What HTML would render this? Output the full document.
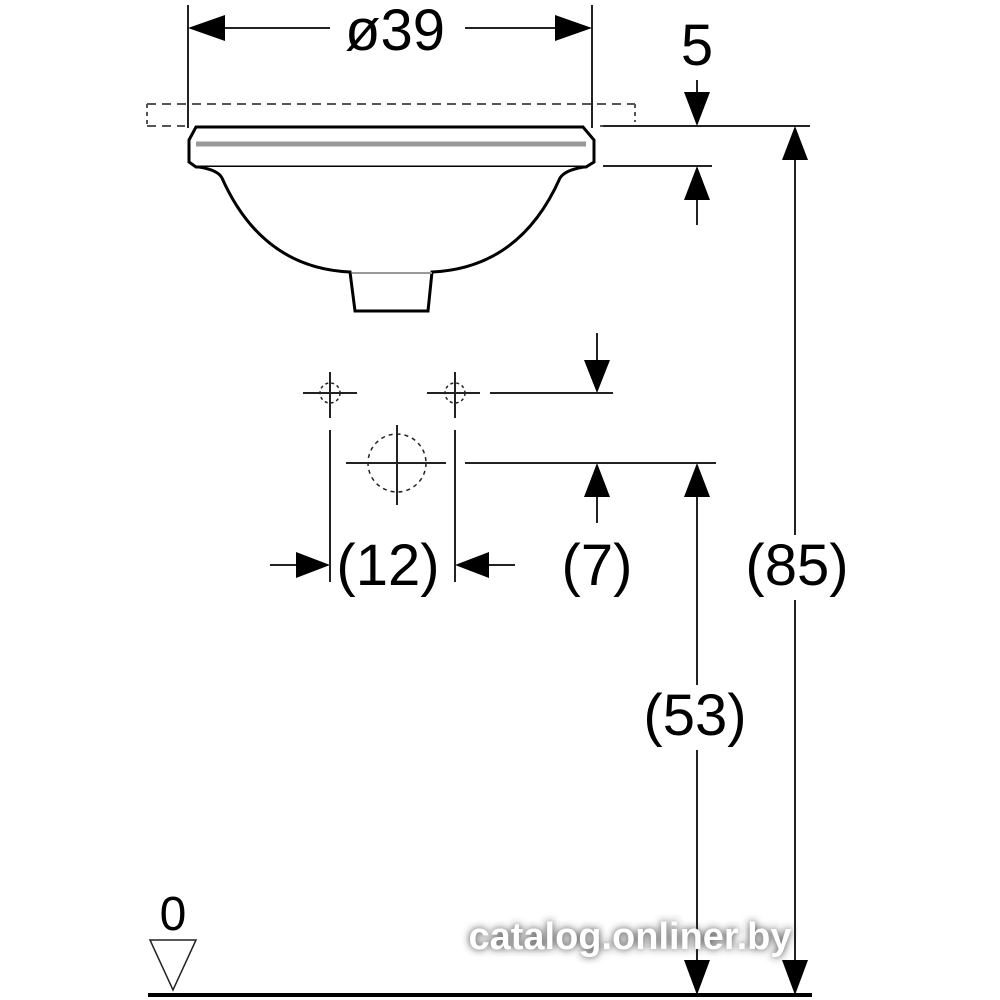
<!DOCTYPE html>
<html><head><meta charset="utf-8"><style>
html,body{margin:0;padding:0;background:#fff;}
svg{display:block;}
text{font-family:"Liberation Sans",sans-serif;fill:#000;}
</style></head><body>
<svg width="1000" height="1000" viewBox="0 0 1000 1000" xmlns="http://www.w3.org/2000/svg">
<defs>
<filter id="sh" x="-20%" y="-50%" width="140%" height="200%"><feGaussianBlur stdDeviation="4"/></filter>
</defs>
<g stroke="#222" stroke-width="2" fill="none">
<line x1="188" y1="5" x2="188" y2="128"/>
<line x1="592" y1="5" x2="592" y2="128"/>
<line x1="225" y1="28" x2="330" y2="28"/>
<line x1="465" y1="28" x2="560" y2="28"/>
<path d="M147 104 H635 M147 126 H185 M600 126 H635" stroke-dasharray="9,6" stroke="#555"/>
<path d="M147 104 V126 M635 104 V122" stroke-dasharray="4,4" stroke="#555"/>
<path d="M196 127 H583 L594 140 V162 L586 167 H196 L189 162 V140 Z" stroke="#000" stroke-width="3" fill="#fff"/>
<line x1="196" y1="144" x2="586" y2="144" stroke="#999" stroke-width="5"/>
<path d="M199 167 Q218 170 222 178 Q262 268 350 272 L355 311 H428 L432 272 Q520 268 560 178 Q565 170 584 167" stroke="#000" stroke-width="3" fill="#fff"/>
<line x1="352" y1="273" x2="432" y2="273" stroke="#999"/>
<line x1="603" y1="126" x2="810" y2="126"/>
<line x1="603" y1="166" x2="712" y2="166"/>
<line x1="697" y1="80" x2="697" y2="100"/>
<line x1="697" y1="195" x2="697" y2="225"/>
<line x1="795" y1="150" x2="795" y2="535"/>
<line x1="795" y1="600" x2="795" y2="970"/>
<line x1="303" y1="393" x2="357" y2="393"/>
<line x1="330" y1="372" x2="330" y2="418"/>
<line x1="427" y1="393" x2="480" y2="393"/>
<line x1="455" y1="372" x2="455" y2="418"/>
<circle cx="330" cy="393" r="10" stroke-dasharray="3,3" stroke-width="1.5"/>
<circle cx="455" cy="393" r="10" stroke-dasharray="3,3" stroke-width="1.5"/>
<line x1="490" y1="393" x2="613" y2="393"/>
<line x1="597" y1="333" x2="597" y2="360"/>
<line x1="330" y1="430" x2="330" y2="582"/>
<line x1="455" y1="430" x2="455" y2="582"/>
<line x1="346" y1="463" x2="446" y2="463"/>
<line x1="397" y1="425" x2="397" y2="505"/>
<circle cx="397" cy="463" r="29" stroke-dasharray="4,4" stroke-width="1.5"/>
<line x1="465" y1="463" x2="716" y2="463"/>
<line x1="597" y1="495" x2="597" y2="523"/>
<line x1="697" y1="495" x2="697" y2="685"/>
<line x1="697" y1="750" x2="697" y2="965"/>
<line x1="270" y1="565" x2="300" y2="565"/>
<line x1="485" y1="565" x2="515" y2="565"/>
<path d="M150 940 H196 L173 990 Z" stroke-width="1.5"/>
</g>
<line x1="148" y1="995" x2="812" y2="995" stroke="#000" stroke-width="4"/>
<g fill="#000">
<path d="M188 28 L225 15 V41 Z"/>
<path d="M592 28 L555 15 V41 Z"/>
<path d="M684 92 H710 L697 126 Z"/>
<path d="M684 200 H710 L697 166 Z"/>
<path d="M782 160 H808 L795 126 Z"/>
<path d="M782 960 H808 L795 995 Z"/>
<path d="M584 360 H610 L597 393 Z"/>
<path d="M584 497 H610 L597 463 Z"/>
<path d="M684 497 H710 L697 463 Z"/>
<path d="M684 960 H710 L697 995 Z"/>
<path d="M330 565 L296 552 V578 Z"/>
<path d="M455 565 L489 552 V578 Z"/>
</g>
<text x="395" y="50" font-size="58" text-anchor="middle">ø39</text>
<text x="697" y="65" font-size="58" text-anchor="middle">5</text>
<rect x="742" y="535" width="112" height="65" fill="#fff"/>
<text x="797" y="585" font-size="58" text-anchor="middle">(85)</text>
<text x="388" y="585" font-size="58" text-anchor="middle">(12)</text>
<text x="597" y="585" font-size="58" text-anchor="middle">(7)</text>
<rect x="638" y="685" width="115" height="65" fill="#fff"/>
<text x="695" y="735" font-size="58" text-anchor="middle">(53)</text>
<text x="173" y="930" font-size="48" text-anchor="middle">0</text>
<text x="630" y="949" font-size="38" font-weight="bold" text-anchor="middle" filter="url(#sh)" style="fill:#333">catalog.onliner.by</text>
<text x="630" y="949" font-size="38" font-weight="bold" text-anchor="middle" style="fill:#fff">catalog.onliner.by</text>
</svg>
</body></html>
